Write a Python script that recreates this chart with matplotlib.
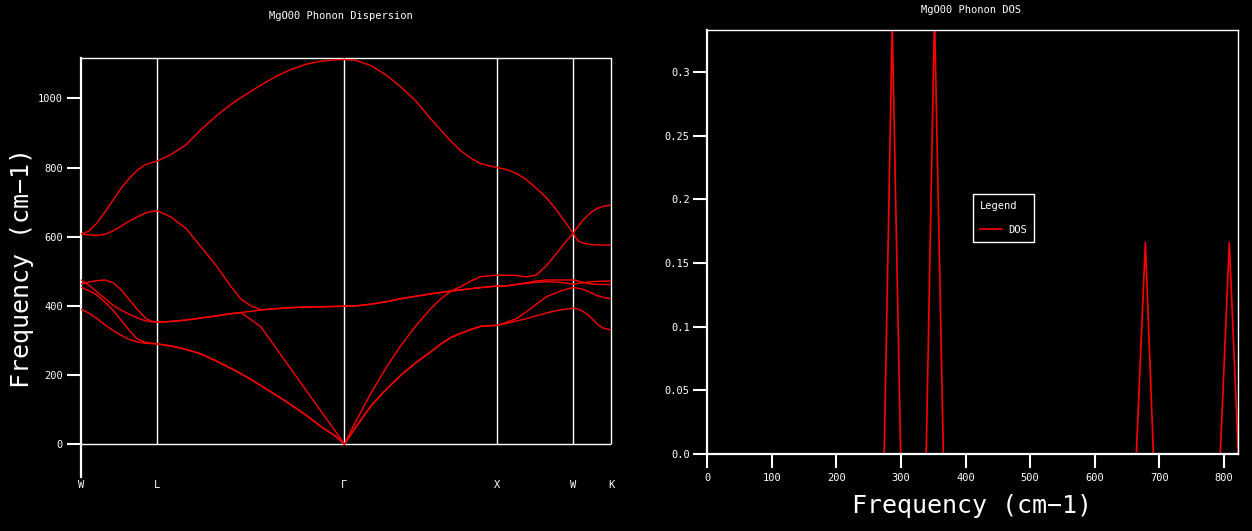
import matplotlib
matplotlib.use('agg')
import matplotlib.pyplot as plt

# High-symmetry points along the path (path distance)
sym_labels = ['W', 'L', 'Γ', 'X', 'W', 'K']
sym_k = [0, 76.3, 263.4, 416.4, 492, 530.3]

# Phonon branches, one segment at a time (frequency in cm-1)
k_WL = [0, 8, 16, 24, 32, 40, 48, 56, 64, 70, 76.3]
f_WL = [
    [608, 616, 640, 672, 706, 740, 768, 792, 808, 814, 819],
    [608, 605, 604, 607, 617, 630, 645, 657, 668, 673, 675],
    [475, 460, 440, 421, 402, 388, 376, 366, 357, 354, 353],
    [463, 469, 473, 475, 467, 447, 419, 391, 366, 356, 353],
    [454, 444, 431, 411, 387, 359, 330, 305, 295, 292, 290],
    [390, 379, 363, 345, 329, 315, 303, 296, 292, 291, 290],
]

k_LG = [76.3, 90, 105, 120, 135, 150, 160, 170, 180, 195, 210, 225, 240, 255, 263.4]
f_LG = [
    [819, 838, 866, 910, 949, 983, 1003, 1021, 1039, 1064, 1084, 1099, 1108, 1112, 1113],
    [675, 657, 624, 571, 517, 456, 419, 400, 388.5, 392, 395, 396.5, 397.5, 398.5, 399],
    [353, 355, 359, 365, 371, 377.5, 381, 384, 388.5, 392, 395, 396.5, 397.5, 398.5, 399],
    [353, 355, 359, 365, 371, 377.5, 380, 360, 339, 278, 217, 156, 95, 35, 0],
    [290, 284, 274, 261, 241, 219, 204, 187, 169, 142, 114, 84, 51, 22, 0],
    [290, 284, 274, 261, 241, 219, 204, 187, 169, 142, 114, 84, 51, 22, 0],
]

k_GX = [263.4, 275, 290, 305, 320, 335, 350, 360, 370, 380, 390, 400, 416.4]
f_GX = [
    [1113, 1110, 1095, 1068, 1033, 992, 940, 908, 876, 848, 827, 811, 800],
    [0, 67, 148, 221, 286, 343, 393, 421, 443, 456, 472, 485, 489],
    [399, 400, 405, 412, 421, 428, 435, 439, 443, 446, 450, 453, 457.5],
    [399, 400, 405, 412, 421, 428, 435, 439, 443, 446, 450, 453, 457.5],
    [0, 50, 111, 158, 200, 236, 268, 290, 309, 321, 332, 341, 344],
    [0, 50, 111, 158, 200, 236, 268, 290, 309, 321, 332, 341, 344],
]

k_XW = [416.4, 425, 435, 445, 455, 465, 475, 485, 492]
f_XW = [
    [800, 795, 784, 766, 741, 714, 679, 639, 610],
    [489, 488.5, 488, 484, 489, 515, 550, 587, 610],
    [457.5, 458, 462, 467, 472, 475, 475, 475, 475],
    [457.5, 457.5, 462, 465, 468, 470, 469, 466, 463],
    [344, 352, 363, 382, 404, 426, 438, 448, 453],
    [344, 349, 356, 363, 371, 379, 386, 391, 393],
]

k_WK = [492, 497, 502, 507, 512, 517, 522, 530.3]
f_WK = [
    [610, 588, 582, 578.5, 577, 576.5, 576, 576],
    [610, 630, 648, 663, 675, 683, 688, 692],
    [475, 472, 468, 465, 463, 462, 462, 462],
    [463, 465, 467, 469, 470, 471, 471.5, 472],
    [453, 451, 448, 442, 435, 429, 425, 420],
    [393, 391, 384, 374, 360, 345, 336, 330],
]

segments = [(k_WL, f_WL), (k_LG, f_LG), (k_GX, f_GX), (k_XW, f_XW), (k_WK, f_WK)]

# Density of states
dos_freq = [0, 274.2, 286.6, 299.6, 339.2, 352.0, 365.7, 664.3, 678.3, 690.7, 794.2, 808.2, 822.0]
dos_val = [0, 0, 0.338, 0, 0, 0.346, 0, 0, 0.166, 0, 0, 0.166, 0]

freq_ticks = [0, 200, 400, 600, 800, 1000]
dos_xticks = [0, 100, 200, 300, 400, 500, 600, 700, 800]
dos_yticks = [0.0, 0.05, 0.1, 0.15, 0.2, 0.25, 0.3]
dos_ylabels = ['0.0', '0.05', '0.1', '0.15', '0.2', '0.25', '0.3']

mono = ['DejaVu Sans Mono']
small = 7.5
big = 18

fig = plt.figure(figsize=(12.52, 5.31), dpi=100, facecolor='black')

# ---- dispersion ----
ax1 = fig.add_axes([0.0647, 0.1017, 0.4236, 0.789])
ax1.set_facecolor('black')
for k, branches in segments:
    for f in branches:
        ax1.plot(k, f, color='red', lw=1.0, zorder=3)
ytop = 1117
ax1.set_xlim(0, sym_k[-1])
ax1.set_ylim(-95, ytop)
ax1.vlines(sym_k[1:], 0, ytop, color='white', lw=1.0, zorder=2, clip_on=False)
ax1.axhline(0, color='white', lw=1.0, zorder=2)
for s in ['bottom', 'right']:
    ax1.spines[s].set_visible(False)
ax1.spines['left'].set_color('white')
ax1.spines['left'].set_linewidth(1.6)
ax1.spines['top'].set_color('white')
ax1.spines['top'].set_linewidth(1.0)
ax1.set_yticks(freq_ticks)
ax1.set_yticklabels([str(v) for v in freq_ticks], family=mono, fontsize=small, color='white')
ax1.tick_params(axis='y', colors='white', length=10, width=1.5, pad=3)
ax1.set_xticks(sym_k)
ax1.set_xticklabels(sym_labels, family=mono, fontsize=small, color='white')
ax1.tick_params(axis='x', length=0, pad=2)
ax1.set_ylabel('Frequency (cm−1)', family=mono, fontsize=big, color='white')
ax1.yaxis.set_label_coords(-0.0886, 0.5)
fig.text(341 / 1252, 1 - 16 / 531, 'MgO00 Phonon Dispersion', family=mono, fontsize=small,
         color='white', ha='center', va='center')

# ---- DOS ----
ax2 = fig.add_axes([0.5647, 0.145, 0.4238, 0.7985])
ax2.set_facecolor('black')
ax2.plot(dos_freq, dos_val, color='red', lw=1.2, label='DOS', zorder=2)
ax2.set_xlim(0, 821)
ax2.set_ylim(0, 0.333)
for s in ['left', 'bottom']:
    ax2.spines[s].set_color('white')
    ax2.spines[s].set_linewidth(1.6)
for s in ['top', 'right']:
    ax2.spines[s].set_color('white')
    ax2.spines[s].set_linewidth(1.0)
ax2.set_xticks(dos_xticks)
ax2.set_xticklabels([str(v) for v in dos_xticks], family=mono, fontsize=small, color='white')
ax2.set_yticks(dos_yticks)
ax2.set_yticklabels(dos_ylabels, family=mono, fontsize=small, color='white')
ax2.tick_params(axis='x', colors='white', length=10, width=1.5, pad=4)
ax2.tick_params(axis='y', colors='white', length=10, width=1.5, pad=2.5)
ax2.set_xlabel('Frequency (cm−1)', family=mono, fontsize=big, color='white')
ax2.xaxis.set_label_coords(0.5, -0.095)
fig.text(971 / 1252, 1 - 10 / 531, 'MgO00 Phonon DOS', family=mono, fontsize=small,
         color='white', ha='center', va='center')

leg = ax2.legend(loc='upper left', bbox_to_anchor=(0.501, 0.613), borderaxespad=0,
                 title='Legend', alignment='left', fancybox=False, facecolor='black',
                 edgecolor='white', framealpha=1, handlelength=2.1, handletextpad=0.6,
                 borderpad=0.7, labelspacing=1.3,
                 prop={'family': mono, 'size': small})
leg.get_title().set_color('white')
leg.get_title().set_family(mono)
leg.get_title().set_fontsize(small)
for t in leg.get_texts():
    t.set_color('white')
leg.get_frame().set_linewidth(1.0)

plt.savefig('out.png', facecolor='black', dpi=100)
